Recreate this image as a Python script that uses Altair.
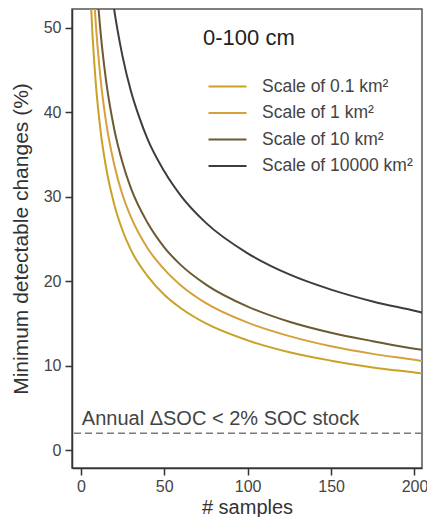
import altair as alt
import pandas as pd

# ---- data ----
series_names = ["Scale of 0.1 km²", "Scale of 1 km²", "Scale of 10 km²", "Scale of 10000 km²"]
series_colors = ["#c9a227", "#d6a03c", "#6b5a32", "#3d3d3d"]

n_01 = [5, 6, 7, 8, 9, 10, 12, 15, 20, 25, 30, 40, 50, 60, 75, 100, 125, 150, 175, 200, 205]
v_01 = [58.1, 53.1, 49.1, 46.0, 43.3, 41.1, 37.5, 33.6, 29.1, 26.0, 23.7, 20.6, 18.4, 16.8, 15.0, 13.0, 11.6, 10.6, 9.8, 9.2, 9.08]

n_1 = [7, 8, 9, 10, 12, 15, 20, 25, 30, 40, 50, 60, 75, 100, 125, 150, 175, 200, 205]
v_1 = [57.1, 53.4, 50.3, 47.8, 43.6, 39.0, 33.8, 30.2, 27.6, 23.9, 21.4, 19.5, 17.4, 15.1, 13.5, 12.3, 11.4, 10.7, 10.55]

n_10 = [9, 10, 12, 15, 20, 25, 30, 40, 50, 60, 75, 100, 125, 150, 175, 200, 205]
v_10 = [56.7, 53.8, 49.1, 43.9, 38.0, 34.0, 31.0, 26.9, 24.0, 21.9, 19.6, 17.0, 15.2, 13.9, 12.9, 12.0, 11.87]

n_10000 = [18, 20, 22, 25, 30, 35, 40, 50, 60, 75, 100, 125, 150, 175, 200, 205]
v_10000 = [54.9, 52.1, 49.7, 46.6, 42.5, 39.4, 36.8, 33.0, 30.1, 26.9, 23.3, 20.8, 19.0, 17.6, 16.5, 16.27]

threshold = 2
threshold_label = "Annual ΔSOC < 2% SOC stock"
panel_title = "0-100 cm"
x_ticks = [0, 50, 100, 150, 200]
y_ticks = [0, 10, 20, 30, 40, 50]

rows = []
for name, ns, vs in zip(series_names, [n_01, n_1, n_10, n_10000], [v_01, v_1, v_10, v_10000]):
    for n, v in zip(ns, vs):
        rows.append({"samples": n, "mdc": v, "scale": name})
df = pd.DataFrame(rows)

FONT = "Liberation Sans"
TXT = "#444444"

x_scale = alt.Scale(domain=[-5.3, 204.5], nice=False, zero=False)
y_scale = alt.Scale(domain=[-2.1, 52.2], nice=False, zero=False)

lines = alt.Chart(df).mark_line(strokeWidth=2, clip=True, interpolate="monotone").encode(
    x=alt.X("samples:Q", scale=x_scale, title="# samples",
            axis=alt.Axis(values=x_ticks, grid=False)),
    y=alt.Y("mdc:Q", scale=y_scale, title="Minimum detectable changes (%)",
            axis=alt.Axis(values=y_ticks, grid=False)),
    color=alt.Color("scale:N", sort=series_names,
                    scale=alt.Scale(domain=series_names, range=series_colors),
                    legend=alt.Legend(title=None, orient="none", legendX=145, legendY=67,
                                      symbolType="M-2,0H2", symbolSize=361, symbolStrokeWidth=2,
                                      symbolFillColor="transparent",
                                      labelFontSize=17.5, labelFont=FONT, labelColor=TXT,
                                      labelOffset=24, rowPadding=7.5, padding=0)),
    order="samples:Q",
)

thr_df = pd.DataFrame({"y": [threshold], "label": [threshold_label], "x": [0]})
rule = alt.Chart(thr_df).mark_rule(color="#7a7a7a", strokeWidth=1.5, strokeDash=[7, 4]).encode(
    y=alt.Y("y:Q", scale=y_scale)
)
thr_text = alt.Chart(thr_df).mark_text(align="left", baseline="alphabetic", dy=-8, dx=1,
                                        fontSize=20, font=FONT, color=TXT).encode(
    x=alt.X("x:Q", scale=x_scale), y=alt.Y("y:Q", scale=y_scale), text="label:N"
)

title_df = pd.DataFrame({"t": [panel_title]})
title_text = alt.Chart(title_df).mark_text(align="left", baseline="middle", fontSize=22,
                                           font=FONT, color="#222222").encode(
    x=alt.value(131), y=alt.value(29), text="t:N"
)

chart = alt.layer(lines, rule, thr_text, title_text).properties(
    width=350, height=459,
    autosize=alt.AutoSizeParams(type="none"),
    padding={"left": 64, "top": 1, "right": 5, "bottom": 49},
).configure_view(
    stroke="#555555", strokeWidth=1.5
).configure_axis(
    domainColor="#333333", domainWidth=1.5, tickColor="#333333", tickWidth=1.5, tickSize=7,
    labelFont=FONT, labelFontSize=16, labelColor=TXT, titleFont=FONT, titleFontSize=20,
    titleColor="#333333", titleFontWeight="normal"
).configure_axisX(
    labelPadding=3, titlePadding=3
).configure_axisY(
    labelPadding=4, titlePadding=12, titleFontSize=21
)

chart.save("out.html", embed_options={"renderer": "svg", "actions": False})
